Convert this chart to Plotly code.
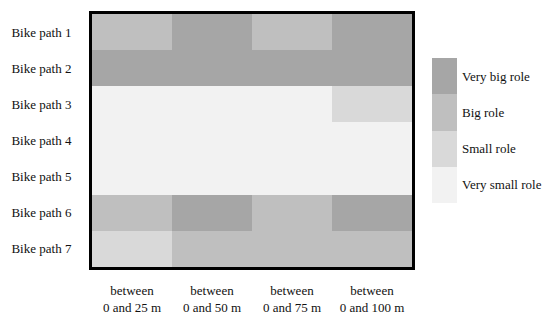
import plotly.graph_objects as go

rows = ["Bike path 1", "Bike path 2", "Bike path 3", "Bike path 4",
        "Bike path 5", "Bike path 6", "Bike path 7"]
cols = ["between<br>0 and 25 m", "between<br>0 and 50 m",
        "between<br>0 and 75 m", "between<br>0 and 100 m"]
# 1 = Very small role, 2 = Small role, 3 = Big role, 4 = Very big role
values = [
    [3, 4, 3, 4],
    [4, 4, 4, 4],
    [1, 1, 1, 2],
    [1, 1, 1, 1],
    [1, 1, 1, 1],
    [3, 4, 3, 4],
    [2, 3, 3, 3],
]
legend_labels = ["Very big role", "Big role", "Small role", "Very small role"]
legend_values = [[4], [3], [2], [1]]

colors = ["#f2f2f2", "#d9d9d9", "#bfbfbf", "#a6a6a6"]
cs = [[0, colors[0]], [1/6, colors[0]], [1/6, colors[1]], [0.5, colors[1]],
      [0.5, colors[2]], [5/6, colors[2]], [5/6, colors[3]], [1, colors[3]]]

font = dict(family="Liberation Serif, Times New Roman, serif", size=13, color="#111")

fig = go.Figure()
fig.add_trace(go.Heatmap(z=values, x=cols, y=rows, zmin=1, zmax=4,
                         colorscale=cs, showscale=False, hoverinfo="skip"))
fig.add_trace(go.Heatmap(z=legend_values, x=["k"], y=legend_labels, zmin=1, zmax=4,
                         colorscale=cs, showscale=False, xaxis="x2", yaxis="y2",
                         hoverinfo="skip"))

# page body has an 8px margin, so figure pixel = screen pixel - 8
O = 8
W, H = 542, 311


def px_x(a, b):
    return [(a - O) / W, (b - O) / W]


def px_y(top, bottom):
    return [1 - (bottom - O) / H, 1 - (top - O) / H]


fig.update_layout(
    width=W, height=H,
    margin=dict(l=0, r=0, t=0, b=0),
    paper_bgcolor="white", plot_bgcolor="white",
    font=font,
    xaxis=dict(domain=px_x(92, 412), showline=True, mirror=True, linewidth=3,
               linecolor="black", ticks="", showgrid=False, zeroline=False,
               ticklabelstandoff=9, tickfont=font, fixedrange=True,
               automargin=False),
    yaxis=dict(domain=px_y(14, 267), autorange="reversed", showline=True,
               mirror=True, linewidth=3, linecolor="black", ticks="",
               showgrid=False, zeroline=False, ticklabelstandoff=15,
               tickfont=font, fixedrange=True, automargin=False),
    xaxis2=dict(domain=px_x(432, 457), anchor="y2", showticklabels=False,
                showline=False, ticks="", showgrid=False, zeroline=False,
                automargin=False),
    yaxis2=dict(domain=px_y(58, 203), anchor="x2", side="right",
                autorange="reversed", showline=False, ticks="", showgrid=False,
                zeroline=False, ticklabelstandoff=4, tickfont=font,
                automargin=False),
)

fig.write_html("out.html")
